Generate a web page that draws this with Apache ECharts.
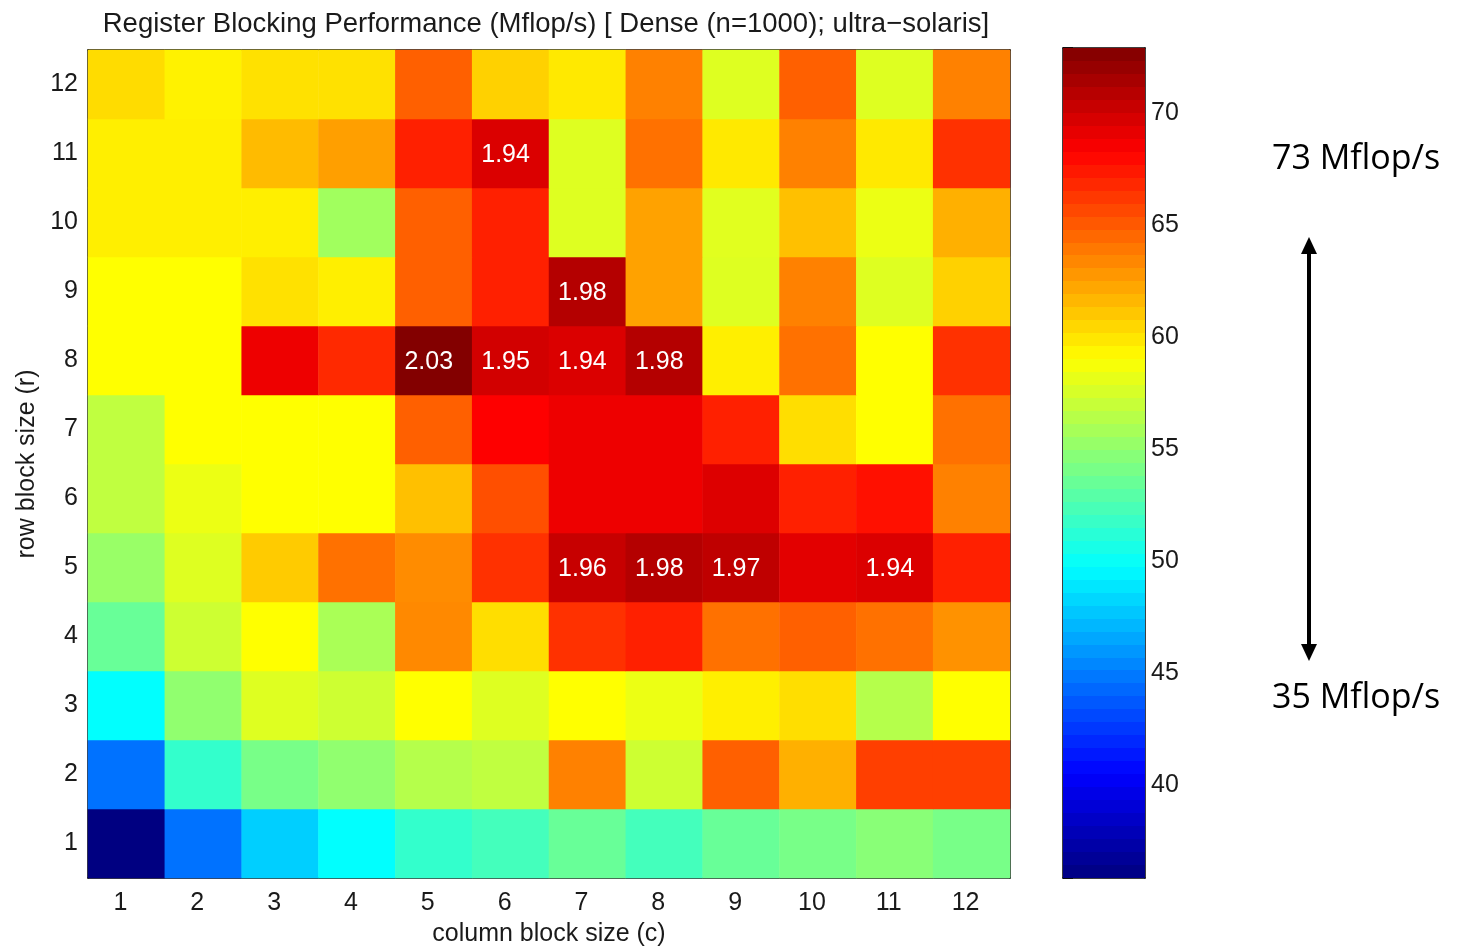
<!DOCTYPE html>
<html>
<head>
<meta charset="utf-8">
<title>Register Blocking Performance</title>
<script src="https://cdn.jsdelivr.net/npm/echarts@6/dist/echarts.min.js"></script>
<style>
  html, body { margin: 0; padding: 0; background: #fff; }
  #chart { width: 1461px; height: 949px; }
</style>
</head>
<body>
<div id="chart"></div>
<script>
// block sizes
const colSizes = ['1', '2', '3', '4', '5', '6', '7', '8', '9', '10', '11', '12'];
const rowSizes = ['1', '2', '3', '4', '5', '6', '7', '8', '9', '10', '11', '12'];

// Mflop/s, one array per row block size r (bottom row first), columns c = 1..12
const r1 = [35.9, 44.6, 48.0, 49.8, 51.6, 52.2, 53.5, 52.2, 53.5, 54.1, 54.7, 54.1];
const r2 = [44.6, 51.6, 54.1, 55.0, 56.3, 56.7, 63.6, 57.2, 64.8, 61.9, 66.0, 66.0];
const r3 = [49.8, 55.0, 57.8, 57.2, 59.0, 57.8, 59.0, 58.3, 59.6, 60.2, 56.3, 59.0];
const r4 = [53.5, 57.2, 59.0, 55.9, 63.3, 60.2, 66.5, 67.1, 64.2, 64.8, 64.2, 63.0];
const r5 = [55.3, 57.8, 60.9, 64.2, 63.2, 66.5, 70.3, 71.0, 70.6, 69.3, 69.6, 67.1];
const r6 = [56.7, 58.3, 59.0, 59.0, 61.3, 65.4, 68.9, 68.9, 69.5, 67.1, 67.7, 63.6];
const r7 = [56.7, 59.0, 59.0, 59.0, 64.8, 68.3, 68.9, 68.9, 67.1, 60.2, 59.0, 64.2];
const r8 = [59.0, 59.0, 68.9, 66.8, 72.8, 69.9, 69.6, 71.0, 59.6, 64.2, 59.0, 66.5];
const r9 = [59.0, 59.0, 60.1, 59.6, 64.8, 67.1, 71.0, 62.4, 57.8, 63.6, 57.8, 60.7];
const r10 = [59.6, 59.6, 59.6, 55.6, 64.8, 67.1, 57.8, 62.4, 57.9, 61.3, 58.3, 61.9];
const r11 = [59.6, 59.6, 61.5, 62.5, 67.1, 69.6, 57.8, 64.2, 59.8, 63.6, 59.8, 66.5];
const r12 = [60.3, 59.5, 60.1, 60.1, 64.8, 60.7, 59.8, 63.6, 57.8, 64.8, 57.8, 63.6];
const perfRows = [r1, r2, r3, r4, r5, r6, r7, r8, r9, r10, r11, r12];

// speedups printed in the best cells: [c, r, text]
const speedups = [
  [6, 11, '1.94'],
  [7, 9, '1.98'],
  [5, 8, '2.03'], [6, 8, '1.95'], [7, 8, '1.94'], [8, 8, '1.98'],
  [7, 5, '1.96'], [8, 5, '1.98'], [9, 5, '1.97'], [11, 5, '1.94']
];

// colour scale limits and the two notes on the right
const scaleMin = 35.86;
const scaleMax = 72.9;
const notes = ['73 Mflop/s', '35 Mflop/s'];

// matlab "jet"
function jet(t) {
  const c = v => Math.round(255 * Math.max(0, Math.min(1, v)));
  const r = c(1.5 - Math.abs(4 * t - 3));
  const g = c(1.5 - Math.abs(4 * t - 2));
  const b = c(1.5 - Math.abs(4 * t - 1));
  return 'rgb(' + r + ',' + g + ',' + b + ')';
}
const jetStops = [0, 1, 2, 3, 4, 5, 6, 7, 8].map(i => jet(i / 8));

const cells = [];
perfRows.forEach((row, ri) => {
  row.forEach((v, ci) => cells.push([ci, ri, v]));
});
const labelOf = {};
speedups.forEach(([c, r, txt]) => { labelOf[(c - 1) + '_' + (r - 1)] = txt; });

// 64 bands for the colour bar, top = high
const bands = [];
for (let i = 0; i < 64; i++) {
  const col = jet(1 - (i + 0.5) / 64);
  bands.push({ offset: i / 64, color: col }, { offset: (i + 1) / 64, color: col });
}

const font = 'Liberation Sans';
const ink = '#1a1a1a';

const chart = echarts.init(document.getElementById('chart'));
chart.setOption({
  animation: false,
  backgroundColor: '#fff',
  title: {
    text: 'Register Blocking Performance (Mflop/s) [ Dense (n=1000); ultra\u2212solaris]',
    left: 541,
    top: 5,
    textAlign: 'center',
    textStyle: { fontFamily: font, fontSize: 27.5, fontWeight: 'normal', color: ink }
  },
  grid: [
    { left: 88, top: 50, width: 922, height: 828, outerBoundsMode: 'none' },
    { left: 1063, top: 48, width: 82, height: 830, outerBoundsMode: 'none' }
  ],
  xAxis: [
    {
      gridIndex: 0, type: 'category', data: colSizes, position: 'bottom',
      axisLine: { lineStyle: { color: '#000', width: 1.5 } },
      axisTick: { show: false },
      axisLabel: { fontFamily: font, fontSize: 25, color: ink, margin: 13, padding: [0, 12, 0, 0] },
      name: 'column block size (c)', nameLocation: 'middle', nameGap: 44,
      nameTextStyle: { fontFamily: font, fontSize: 25, color: ink }
    },
    {
      gridIndex: 0, type: 'category', data: colSizes, position: 'top',
      axisLine: { lineStyle: { color: '#000', width: 1.5 } },
      axisTick: { show: false }, axisLabel: { show: false }
    },
    {
      gridIndex: 1, type: 'value', min: 0, max: 1, position: 'bottom',
      axisLine: { lineStyle: { color: '#000', width: 1.5 } },
      axisTick: { show: false }, axisLabel: { show: false }, splitLine: { show: false }
    },
    {
      gridIndex: 1, type: 'value', min: 0, max: 1, position: 'top',
      axisLine: { lineStyle: { color: '#000', width: 1.5 } },
      axisTick: { show: false }, axisLabel: { show: false }, splitLine: { show: false }
    }
  ],
  yAxis: [
    {
      gridIndex: 0, type: 'category', data: rowSizes, position: 'left',
      axisLine: { lineStyle: { color: '#000', width: 1.5 } },
      axisTick: { show: false },
      axisLabel: { fontFamily: font, fontSize: 25, color: ink, margin: 10 },
      name: 'row block size (r)', nameLocation: 'middle', nameGap: 47,
      nameTextStyle: { fontFamily: font, fontSize: 25, color: ink }
    },
    {
      gridIndex: 0, type: 'category', data: rowSizes, position: 'right',
      axisLine: { lineStyle: { color: '#000', width: 1.5 } },
      axisTick: { show: false }, axisLabel: { show: false }
    },
    {
      gridIndex: 1, type: 'value', min: scaleMin, max: scaleMax, splitNumber: 7, position: 'right',
      axisLine: { onZero: false, lineStyle: { color: '#000', width: 1.5 } },
      axisTick: { inside: true, length: 10, lineStyle: { color: '#000', width: 1.5 } },
      axisLabel: { fontFamily: font, fontSize: 25, color: ink, margin: 6, showMinLabel: false, showMaxLabel: false },
      splitLine: { show: false }
    },
    {
      gridIndex: 1, type: 'value', min: scaleMin, max: scaleMax, splitNumber: 7, position: 'left',
      axisLine: { onZero: false, lineStyle: { color: '#000', width: 1.5 } },
      axisTick: { inside: true, length: 10, lineStyle: { color: '#000', width: 1.5 } },
      axisLabel: { show: false },
      splitLine: { show: false }
    }
  ],
  visualMap: {
    show: false,
    type: 'continuous',
    seriesIndex: 0,
    min: scaleMin,
    max: scaleMax,
    inRange: { color: jetStops }
  },
  series: [
    {
      type: 'heatmap',
      xAxisIndex: 0,
      yAxisIndex: 0,
      data: cells,
      z: 1,
      emphasis: { disabled: true },
      label: {
        show: true,
        fontFamily: font,
        fontSize: 25,
        color: '#fff',
        offset: [-5, 2],
        formatter: p => labelOf[p.data[0] + '_' + p.data[1]] || ''
      }
    },
    {
      type: 'custom',
      xAxisIndex: 2,
      yAxisIndex: 2,
      data: [[0, 1, scaleMin, scaleMax]],
      z: 1,
      renderItem: (params, api) => {
        const tl = api.coord([api.value(0), api.value(3)]);
        const br = api.coord([api.value(1), api.value(2)]);
        return {
          type: 'rect',
          shape: { x: tl[0], y: tl[1], width: br[0] - tl[0], height: br[1] - tl[1] },
          style: { fill: new echarts.graphic.LinearGradient(0, 0, 0, 1, bands) }
        };
      }
    }
  ],
  graphic: [
    {
      type: 'text', left: 1272, top: 142,
      style: { text: notes[0], fontFamily: 'Open Sans', fontSize: 34, fill: '#000' }
    },
    {
      type: 'text', left: 1272, top: 681,
      style: { text: notes[1], fontFamily: 'Open Sans', fontSize: 34, fill: '#000' }
    },
    {
      type: 'line',
      shape: { x1: 1309, y1: 250, x2: 1309, y2: 647 },
      style: { stroke: '#000', lineWidth: 4 }
    },
    {
      type: 'polygon',
      shape: { points: [[1309, 237], [1301, 254], [1317, 254]] },
      style: { fill: '#000' }
    },
    {
      type: 'polygon',
      shape: { points: [[1309, 661], [1301, 644], [1317, 644]] },
      style: { fill: '#000' }
    }
  ]
});
</script>
</body>
</html>
